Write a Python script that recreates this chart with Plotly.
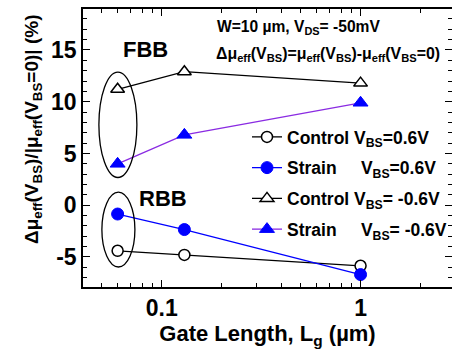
import plotly.graph_objects as go

# ---- data ----
gate_length = [0.06, 0.13, 1.0]          # um
control_fbb = [11.2, 12.9, 11.8]          # open triangles
strain_fbb = [4.0, 6.8, 9.9]              # filled triangles
control_rbb = [-4.4, -4.8, -5.85]         # open circles
strain_rbb = [-0.85, -2.35, -6.7]         # filled circles

x_tickvals = [0.1, 1]
x_ticktext = ["0.1", "1"]
y_tickvals = [-5, 0, 5, 10, 15]
y_ticktext = ["-5", "0", "5", "10", "15"]

names = [
    "Control V<sub>BS</sub>=0.6V",
    "Strain\u00a0\u00a0\u00a0\u00a0 V<sub>BS</sub>=0.6V",
    "Control V<sub>BS</sub>= -0.6V",
    "Strain\u00a0\u00a0\u00a0\u00a0 V<sub>BS</sub>= -0.6V",
]

FONT = "Liberation Sans, Arial, sans-serif"
BLUE = "#0000ff"
PURPLE = "#8a2be2"

L, R, T, B = 83, 0, 9, 67
W, H = 452, 354
pw, ph = W - L - R, H - T - B


def px(x):
    return (x - L) / pw


def py(y):
    return 1 - (y - T) / ph


fig = go.Figure()
fig.add_trace(go.Scatter(x=gate_length, y=control_rbb, name=names[0], mode="lines+markers",
                         legendgroup="a",
                         line=dict(color="black", width=1.3),
                         marker=dict(symbol="circle", size=11, color="white",
                                     line=dict(color="black", width=1.5))))
fig.add_trace(go.Scatter(x=gate_length, y=strain_rbb, name=names[1], mode="lines+markers",
                         legendgroup="b",
                         line=dict(color=BLUE, width=1.3),
                         marker=dict(symbol="circle", size=12, color=BLUE,
                                     line=dict(color=BLUE, width=1))))
fig.add_trace(go.Scatter(x=gate_length, y=control_fbb, name=names[2], mode="lines+markers",
                         legendgroup="c",
                         line=dict(color="black", width=1.3),
                         marker=dict(symbol="triangle-up", size=12, color="white",
                                     line=dict(color="black", width=1.5))))
fig.add_trace(go.Scatter(x=gate_length, y=strain_fbb, name=names[3], mode="lines+markers",
                         legendgroup="d",
                         line=dict(color=PURPLE, width=1.3),
                         marker=dict(symbol="triangle-up", size=13, color=BLUE,
                                     line=dict(color=BLUE, width=1))))

# ellipses around the shortest-gate points
fig.add_shape(type="circle", xref="x", yref="y", x0=0.0483, x1=0.075, y0=2.68, y1=12.87,
              line=dict(color="black", width=1.3))
fig.add_shape(type="circle", xref="x", yref="y", x0=0.050, x1=0.0733, y0=-5.97, y1=1.26,
              line=dict(color="black", width=1.3))

fig.add_annotation(x=px(121), y=py(50), xref="paper", yref="paper", text="FBB", showarrow=False,
                   xanchor="left", yanchor="middle",
                   font=dict(family=FONT, size=22, color="black", weight="bold"))
fig.add_annotation(x=px(137), y=py(198), xref="paper", yref="paper", text="RBB", showarrow=False,
                   xanchor="left", yanchor="middle",
                   font=dict(family=FONT, size=22, color="black", weight="bold"))
fig.add_annotation(x=px(215), y=py(27), xref="paper", yref="paper",
                   text="W=10 \u00b5m, V<sub>DS</sub>= -50mV",
                   showarrow=False, xanchor="left", yanchor="middle",
                   font=dict(family=FONT, size=15.6, color="black", weight="bold"))
fig.add_annotation(x=px(214), y=py(55), xref="paper", yref="paper",
                   text="\u0394\u03bc<sub>eff</sub>(V<sub>BS</sub>)=\u03bc<sub>eff</sub>(V<sub>BS</sub>)-\u03bc<sub>eff</sub>(V<sub>BS</sub>=0)",
                   showarrow=False, xanchor="left", yanchor="middle",
                   font=dict(family=FONT, size=15.9, color="black", weight="bold"))
# y-axis title as rotated text
fig.add_annotation(x=px(33), y=py(130), xref="paper", yref="paper", textangle=-90,
                   text="\u0394\u03bc<sub>eff</sub>(V<sub>BS</sub>)/|\u03bc<sub>eff</sub>(V<sub>BS</sub>=0)| (%)",
                   showarrow=False, xanchor="center", yanchor="middle",
                   font=dict(family=FONT, size=19, color="black", weight="bold"))

fig.update_layout(
    width=W, height=H,
    margin=dict(l=L, r=R, t=T, b=B, autoexpand=False),
    paper_bgcolor="white", plot_bgcolor="white",
    font=dict(family=FONT, color="black", weight="bold"),
    showlegend=True,
    legend=dict(x=px(247), y=py(119), xanchor="left", yanchor="top",
                bgcolor="rgba(0,0,0,0)", font=dict(family=FONT, size=17.5, color="black", weight="bold"),
                tracegroupgap=5, itemwidth=30),
)
fig.update_xaxes(type="log", range=[-1.396, 0.46], tickvals=x_tickvals, ticktext=x_ticktext,
                 automargin=False,
                 ticks="inside", ticklen=7, tickwidth=1.3, tickcolor="black",
                 showline=True, linecolor="black", linewidth=1.5, mirror="allticks",
                 showgrid=False, zeroline=False,
                 minor=dict(ticks="inside", ticklen=4, dtick="D1", tickcolor="black", showgrid=False),
                 tickfont=dict(family=FONT, size=23, color="black", weight="bold"),
                 title=dict(text="Gate Length, L<sub>g</sub> (\u00b5m)", standoff=2,
                            font=dict(family=FONT, size=22, color="black", weight="bold")))
fig.update_yaxes(range=[-7.9, 18.96], tickvals=y_tickvals, ticktext=y_ticktext,
                 automargin=False,
                 ticks="inside", ticklen=7, tickwidth=1.3, tickcolor="black",
                 showline=True, linecolor="black", linewidth=1.5, mirror="allticks",
                 showgrid=False, zeroline=False,
                 minor=dict(ticks="inside", ticklen=4, dtick=1, tickcolor="black", showgrid=False),
                 tickfont=dict(family=FONT, size=23, color="black", weight="bold"))

fig.write_html("out.html", config={"displayModeBar": False},
               post_script="document.body.style.margin='0';document.body.style.overflow='hidden';")
